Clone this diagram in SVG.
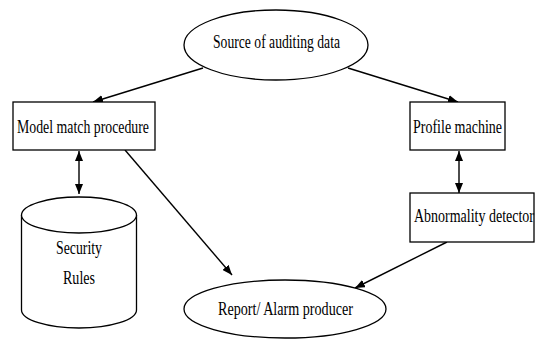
<svg xmlns="http://www.w3.org/2000/svg" width="535" height="339" viewBox="0 0 535 339">
<defs>
<marker id="ah" viewBox="0 0 10 8" refX="10" refY="4" markerWidth="10" markerHeight="8" markerUnits="userSpaceOnUse" orient="auto-start-reverse">
<path d="M0,0 L10,4 L0,8 Z" fill="#000"/>
</marker>
</defs>
<style>
.s{fill:#fff;stroke:#000;stroke-width:1.3}
.t{font-family:"Liberation Serif","Times New Roman",serif;font-size:18px;fill:#000}
.c{fill:none;stroke:#000;stroke-width:1.4}
</style>
<rect width="535" height="339" fill="#fff"/>
<g id="connectors">
<line class="c" x1="203" y1="68" x2="93" y2="102" marker-end="url(#ah)"/>
<line class="c" x1="348" y1="68" x2="458" y2="102" marker-end="url(#ah)"/>
<line class="c" x1="79" y1="151" x2="79" y2="194" marker-start="url(#ah)" marker-end="url(#ah)"/>
<line class="c" x1="459" y1="151" x2="459" y2="193" marker-start="url(#ah)" marker-end="url(#ah)"/>
<line class="c" x1="125" y1="150" x2="232" y2="275" marker-end="url(#ah)"/>
<line class="c" x1="447" y1="242" x2="355" y2="288" marker-end="url(#ah)"/>
</g>
<g id="source">
<ellipse class="s" cx="276" cy="45" rx="92" ry="35"/>
<text class="t" x="213" y="48" textLength="127" lengthAdjust="spacingAndGlyphs">Source of auditing data</text>
</g>
<g id="model">
<rect class="s" x="13" y="102" width="142" height="48"/>
<text class="t" x="17" y="133" textLength="132" lengthAdjust="spacingAndGlyphs">Model match procedure</text>
</g>
<g id="profile">
<rect class="s" x="410" y="102" width="95" height="48"/>
<text class="t" x="413" y="133" textLength="89" lengthAdjust="spacingAndGlyphs">Profile machine</text>
</g>
<g id="abnormality">
<rect class="s" x="410" y="193" width="124" height="49"/>
<text class="t" transform="translate(414,222) scale(1,1.28)" style="font-size:14px" x="0" y="0">Abnormality detector</text>
</g>
<g id="security">
<path class="s" d="M21.5,215 L21.5,310 A57.5,18 0 0 0 136.5,310 L136.5,215"/>
<ellipse class="s" cx="79" cy="215" rx="57.5" ry="18"/>
<text class="t" x="56" y="254" textLength="46" lengthAdjust="spacingAndGlyphs">Security</text>
<text class="t" x="63" y="284" textLength="32" lengthAdjust="spacingAndGlyphs">Rules</text>
</g>
<g id="report">
<ellipse class="s" cx="285" cy="309" rx="101" ry="29"/>
<text class="t" x="218" y="315" textLength="135" lengthAdjust="spacingAndGlyphs">Report/ Alarm producer</text>
</g>
</svg>
